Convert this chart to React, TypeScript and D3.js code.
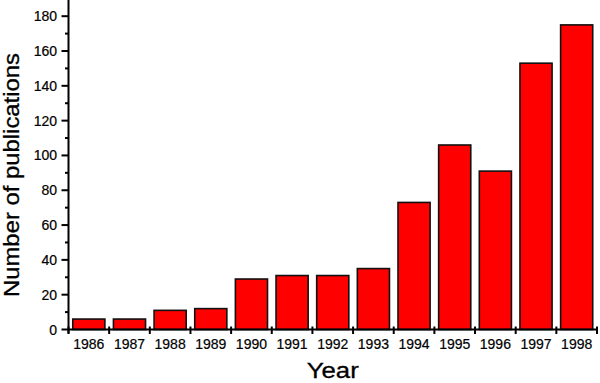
import React from "react";
import * as d3 from "d3";

const years = ["1986","1987","1988","1989","1990","1991","1992","1993","1994","1995","1996","1997","1998"];
const publications = [6, 6, 11, 12, 29, 31, 31, 35, 73, 106, 91, 153, 175];
const yMajorTicks = [0, 20, 40, 60, 80, 100, 120, 140, 160, 180];
const yMinorTicks = [10, 30, 50, 70, 90, 110, 130, 150, 170];

const W = 600;
const H = 383;
const left = 68.5;
const right = 597;
const bottom = 329.5;
const FONT = "'Liberation Sans', Arial, Helvetica, sans-serif";

export default function App() {
  const x = d3.scaleBand<string>().domain(years).range([left, right]).paddingInner(0.21).paddingOuter(0.105);
  const y = d3.scaleLinear().domain([0, 190]).range([bottom, bottom - 190 * 1.7406]);
  const step = x.step();
  const boundaries = d3.range(years.length + 1).map((i) => left + i * step);

  return (
    <svg width={W} height={H} style={{ position: "absolute", left: 0, top: 0, background: "#fff" }} fontFamily={FONT}>
      {years.map((yr, i) => (
        <rect
          key={yr}
          x={x(yr)!}
          y={y(publications[i])}
          width={x.bandwidth()}
          height={bottom - y(publications[i])}
          fill="#ff0000"
          stroke="#111"
          strokeWidth={1.6}
        />
      ))}
      {/* y axis */}
      <line x1={left} x2={left} y1={0} y2={bottom + 4} stroke="#000" strokeWidth={2} />
      {yMajorTicks.map((t) => (
        <g key={"M" + t}>
          <line x1={left - 7} x2={left} y1={y(t)} y2={y(t)} stroke="#000" strokeWidth={2} />
          <text x={57} y={y(t)} dy="0.36em" textAnchor="end" fontSize={14} fill="#000" stroke="#000" strokeWidth={0.2}>{t}</text>
        </g>
      ))}
      {yMinorTicks.map((t) => (
        <line key={"m" + t} x1={left - 3.5} x2={left} y1={y(t)} y2={y(t)} stroke="#000" strokeWidth={2} />
      ))}
      {/* x axis */}
      <line x1={left} x2={right} y1={bottom} y2={bottom} stroke="#000" strokeWidth={2} />
      {boundaries.map((b, i) => (
        <line key={"b" + i} x1={b} x2={b} y1={bottom - 3} y2={bottom + 4.5} stroke="#000" strokeWidth={2} />
      ))}
      {years.map((yr) => (
        <text key={"l" + yr} x={x(yr)! + x.bandwidth() / 2} y={348.5} textAnchor="middle" fontSize={14} fill="#000" stroke="#000" strokeWidth={0.2}>{yr}</text>
      ))}
      <text x={(left + right) / 2} y={378} textAnchor="middle" fontSize={22} textLength={52} lengthAdjust="spacingAndGlyphs" fill="#000" stroke="#000" strokeWidth={0.3}>Year</text>
      <text transform={`translate(18.5,175) rotate(-90)`} textAnchor="middle" fontSize={22} textLength={244} lengthAdjust="spacingAndGlyphs" fill="#000" stroke="#000" strokeWidth={0.3}>Number of publications</text>
    </svg>
  );
}
